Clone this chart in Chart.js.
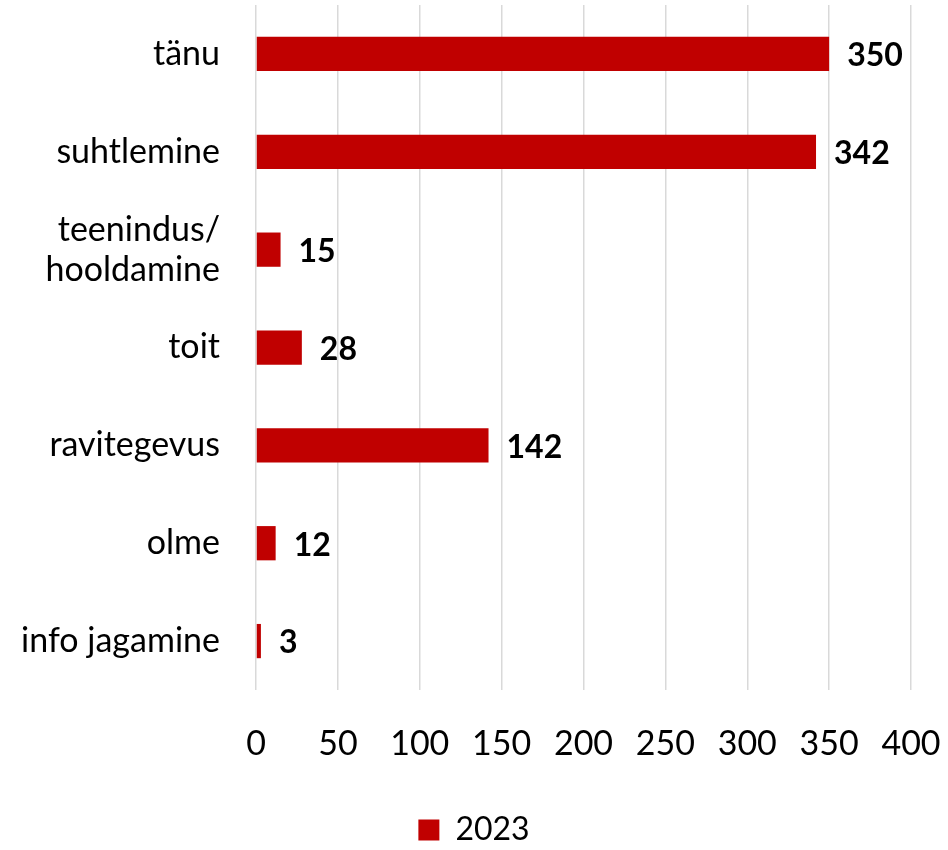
<!DOCTYPE html>
<html>
<head>
<meta charset="utf-8">
<script src="https://cdn.jsdelivr.net/npm/chart.js@4.4.1/dist/chart.umd.min.js"></script>
<style>
  html, body { margin: 0; padding: 0; background: #fff; }
  .chart_wrapper { width: 948px; height: 850px; position: relative; }
</style>
</head>
<body>
<div class="chart_wrapper">
  <canvas id="chart"></canvas>
</div>
<script>
const categories = ['tänu', 'suhtlemine', ['teenindus/', 'hooldamine'], 'toit', 'ravitegevus', 'olme', 'info jagamine'];
const values2023 = [350, 342, 15, 28, 142, 12, 3];
const seriesLabel = '2023';
const xTicks = [0, 50, 100, 150, 200, 250, 300, 350, 400];

const barColor = '#C00000';
const fontFamily = 'Lato, "Open Sans", sans-serif';

// bold value right after each bar end
const valueLabels = {
  id: 'valueLabels',
  afterDatasetsDraw(chart) {
    const ctx = chart.ctx;
    ctx.save();
    ctx.font = 'bold 32px ' + fontFamily;
    ctx.fillStyle = '#000';
    ctx.textAlign = 'left';
    ctx.textBaseline = 'middle';
    chart.getDatasetMeta(0).data.forEach((bar, i) => {
      ctx.fillText(chart.data.datasets[0].data[i], bar.x + 18, bar.y + 2);
    });
    ctx.restore();
  }
};

new Chart(document.getElementById('chart'), {
  type: 'bar',
  data: {
    labels: categories,
    datasets: [{
      label: seriesLabel,
      data: values2023,
      backgroundColor: barColor,
      borderWidth: 0,
      barPercentage: 1,
      categoryPercentage: 0.35
    }]
  },
  options: {
    indexAxis: 'y',
    responsive: true,
    maintainAspectRatio: false,
    animation: false,
    layout: { padding: { top: 5, right: 0, left: 0, bottom: -6 } },
    scales: {
      x: {
        min: 0,
        max: 400,
        afterBuildTicks: axis => { axis.ticks = xTicks.map(v => ({ value: v })); },
        afterFit: axis => {
          axis.paddingLeft = 0;
          axis.paddingRight = 37;
          axis.height = 104;
        },
        grid: { color: '#d9d9d9', lineWidth: 1.5, drawTicks: false },
        border: { display: false },
        ticks: { color: '#000', font: { family: fontFamily, size: 34 }, padding: 34 }
      },
      y: {
        afterFit: axis => {
          axis.width = 256;
          axis.paddingTop = 0;
          axis.paddingBottom = 0;
        },
        grid: { display: false },
        border: { display: false },
        ticks: { color: '#000', font: { family: fontFamily, size: 34, lineHeight: 1.18 }, padding: 28 }
      }
    },
    plugins: {
      legend: {
        position: 'bottom',
        labels: {
          color: '#000',
          font: { family: fontFamily, size: 32 },
          boxWidth: 21,
          boxHeight: 21,
          padding: 20
        }
      },
      tooltip: { enabled: false }
    }
  },
  plugins: [valueLabels]
});
</script>
</body>
</html>
